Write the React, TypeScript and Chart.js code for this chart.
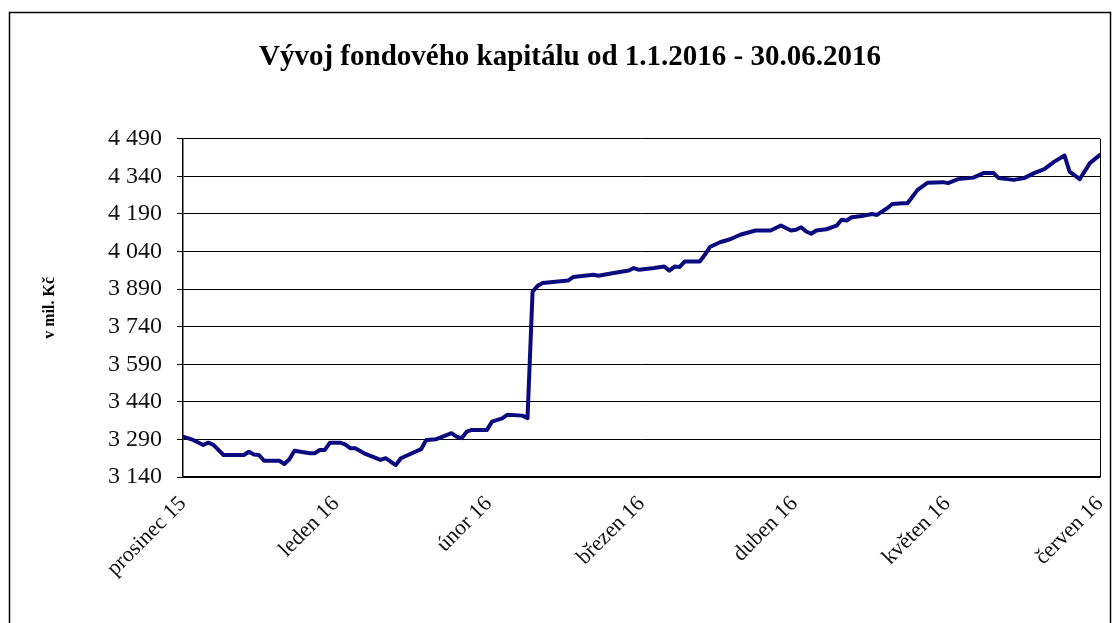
import React, { useEffect, useRef } from "react";
import { Chart, registerables } from "chart.js";

Chart.register(...registerables);

const chartTitle = "Vývoj fondového kapitálu od 1.1.2016 - 30.06.2016";
const yAxisTitle = "v mil. Kč";
const monthLabels = ["prosinec 15", "leden 16", "únor 16", "březen 16", "duben 16", "květen 16", "červen 16"];
const yTickValues = [3140, 3290, 3440, 3590, 3740, 3890, 4040, 4190, 4340, 4490];

// day offset from 1.1.2016 (0 = 1.1.2016, 181 = 30.6.2016)
const dayOffsets = [0, 2, 4, 5, 6, 8, 12, 13, 14, 15, 16, 19, 20, 21, 22, 25, 26, 27, 28, 29, 31, 32, 33, 34, 36, 39, 40, 41, 42, 43, 47, 48, 50, 53, 54, 55, 56, 57, 60, 61, 63, 64, 67, 68, 69, 70, 71, 73, 76, 77, 81, 82, 85, 88, 89, 90, 93, 95, 96, 97, 98, 99, 102, 103, 104, 106, 108, 110, 113, 116, 118, 120, 121, 122, 123, 124, 125, 127, 129, 130, 131, 132, 134, 136, 137, 138, 139, 140, 142, 143, 145, 147, 150, 151, 153, 156, 158, 160, 161, 164, 166, 168, 170, 172, 174, 175, 177, 179, 181];
// fund capital in mil. Kč
const fundCapital = [3301, 3288, 3268, 3277, 3268, 3228, 3228, 3241, 3230, 3228, 3205, 3205, 3192, 3211, 3245, 3235, 3235, 3248, 3248, 3277, 3277, 3270, 3255, 3255, 3232, 3208, 3215, 3201, 3188, 3215, 3251, 3288, 3291, 3315, 3301, 3295, 3321, 3328, 3328, 3361, 3374, 3388, 3385, 3375, 3880, 3903, 3914, 3918, 3924, 3938, 3947, 3943, 3954, 3964, 3974, 3967, 3974, 3980, 3964, 3980, 3978, 4000, 4000, 4027, 4058, 4077, 4089, 4107, 4124, 4124, 4144, 4124, 4127, 4137, 4120, 4111, 4124, 4129, 4143, 4167, 4164, 4177, 4182, 4190, 4186, 4200, 4213, 4230, 4233, 4233, 4286, 4315, 4317, 4313, 4329, 4335, 4353, 4353, 4333, 4326, 4333, 4353, 4369, 4399, 4423, 4359, 4329, 4393, 4426];

const LAST_DAY = 181;
const SERIF = "'Liberation Serif', 'Times New Roman', serif";

const formatThousands = (v: number) => String(v).replace(/\B(?=(\d{3})+(?!\d))/g, " ");

const framePlugin = {
  id: "frame",
  beforeDatasetsDraw(chart: any) {
    const { ctx, chartArea } = chart;
    ctx.save();
    ctx.strokeStyle = "#000";
    ctx.lineWidth = 1;
    ctx.beginPath();
    ctx.moveTo(Math.round(chartArea.right) + 0.5, chartArea.top);
    ctx.lineTo(Math.round(chartArea.right) + 0.5, chartArea.bottom);
    ctx.stroke();
    ctx.restore();
  },
  afterDraw(chart: any) {
    const { ctx } = chart;
    ctx.save();
    ctx.strokeStyle = "#000";
    ctx.lineWidth = 1.5;
    ctx.strokeRect(9.5, 12.5, 1101, 700);
    ctx.restore();
  },
};

export default function App() {
  const canvasRef = useRef<HTMLCanvasElement | null>(null);

  useEffect(() => {
    if (!canvasRef.current) return;
    const points = dayOffsets.map((d, i) => ({ x: d, y: fundCapital[i] }));
    const chart = new Chart(canvasRef.current, {
      type: "line",
      data: {
        datasets: [
          {
            data: points,
            borderColor: "#0b0b80",
            borderWidth: 4,
            pointRadius: 0,
            tension: 0,
            borderJoinStyle: "round",
            borderCapStyle: "round",
            fill: false,
          },
        ],
      },
      options: {
        animation: false,
        responsive: true,
        maintainAspectRatio: false,
        layout: { padding: { left: 40, right: 18, top: 0, bottom: 0 } },
        plugins: {
          legend: { display: false },
          tooltip: { enabled: false },
          title: {
            display: true,
            text: chartTitle,
            color: "#000",
            font: { family: SERIF, size: 29, weight: "bold" },
            padding: { top: 40, bottom: 64 },
          },
        },
        scales: {
          x: {
            type: "linear",
            min: 0,
            max: LAST_DAY,
            afterBuildTicks: (scale: any) => {
              scale.ticks = monthLabels.map((_, i) => ({ value: (i * LAST_DAY) / 6 }));
            },
            afterFit: (scale: any) => {
              scale.height = 146;
              scale.paddingLeft = 0;
              scale.paddingRight = 0;
            },
            grid: { display: false, drawTicks: false },
            border: { display: true, color: "#000", width: 1.5 },
            ticks: {
              autoSkip: false,
              maxRotation: 45,
              minRotation: 45,
              padding: 14,
              color: "#111",
              font: { family: SERIF, size: 22 },
              callback: (_v: any, i: number) => monthLabels[i],
            },
          },
          y: {
            min: 3140,
            max: 4490,
            afterBuildTicks: (scale: any) => {
              scale.ticks = yTickValues.map((v) => ({ value: v }));
            },
            afterFit: (scale: any) => {
              scale.width = 143;
            },
            grid: { color: "#000", lineWidth: 1, tickLength: 6, drawTicks: true },
            border: { display: true, color: "#000", width: 1.5 },
            ticks: {
              padding: 15,
              color: "#111",
              font: { family: SERIF, size: 24 },
              callback: (v: any) => formatThousands(Number(v)),
            },
            title: {
              display: true,
              text: yAxisTitle,
              color: "#000",
              font: { family: SERIF, size: 16, weight: "bold" },
              padding: { top: 0, bottom: 0 },
            },
          },
        },
      },
      plugins: [framePlugin],
    });
    return () => chart.destroy();
  }, []);

  return (
    <div style={{ position: "fixed", left: 0, top: 0, width: 1118, height: 623, background: "#fff" }}>
      <canvas ref={canvasRef} />
    </div>
  );
}
